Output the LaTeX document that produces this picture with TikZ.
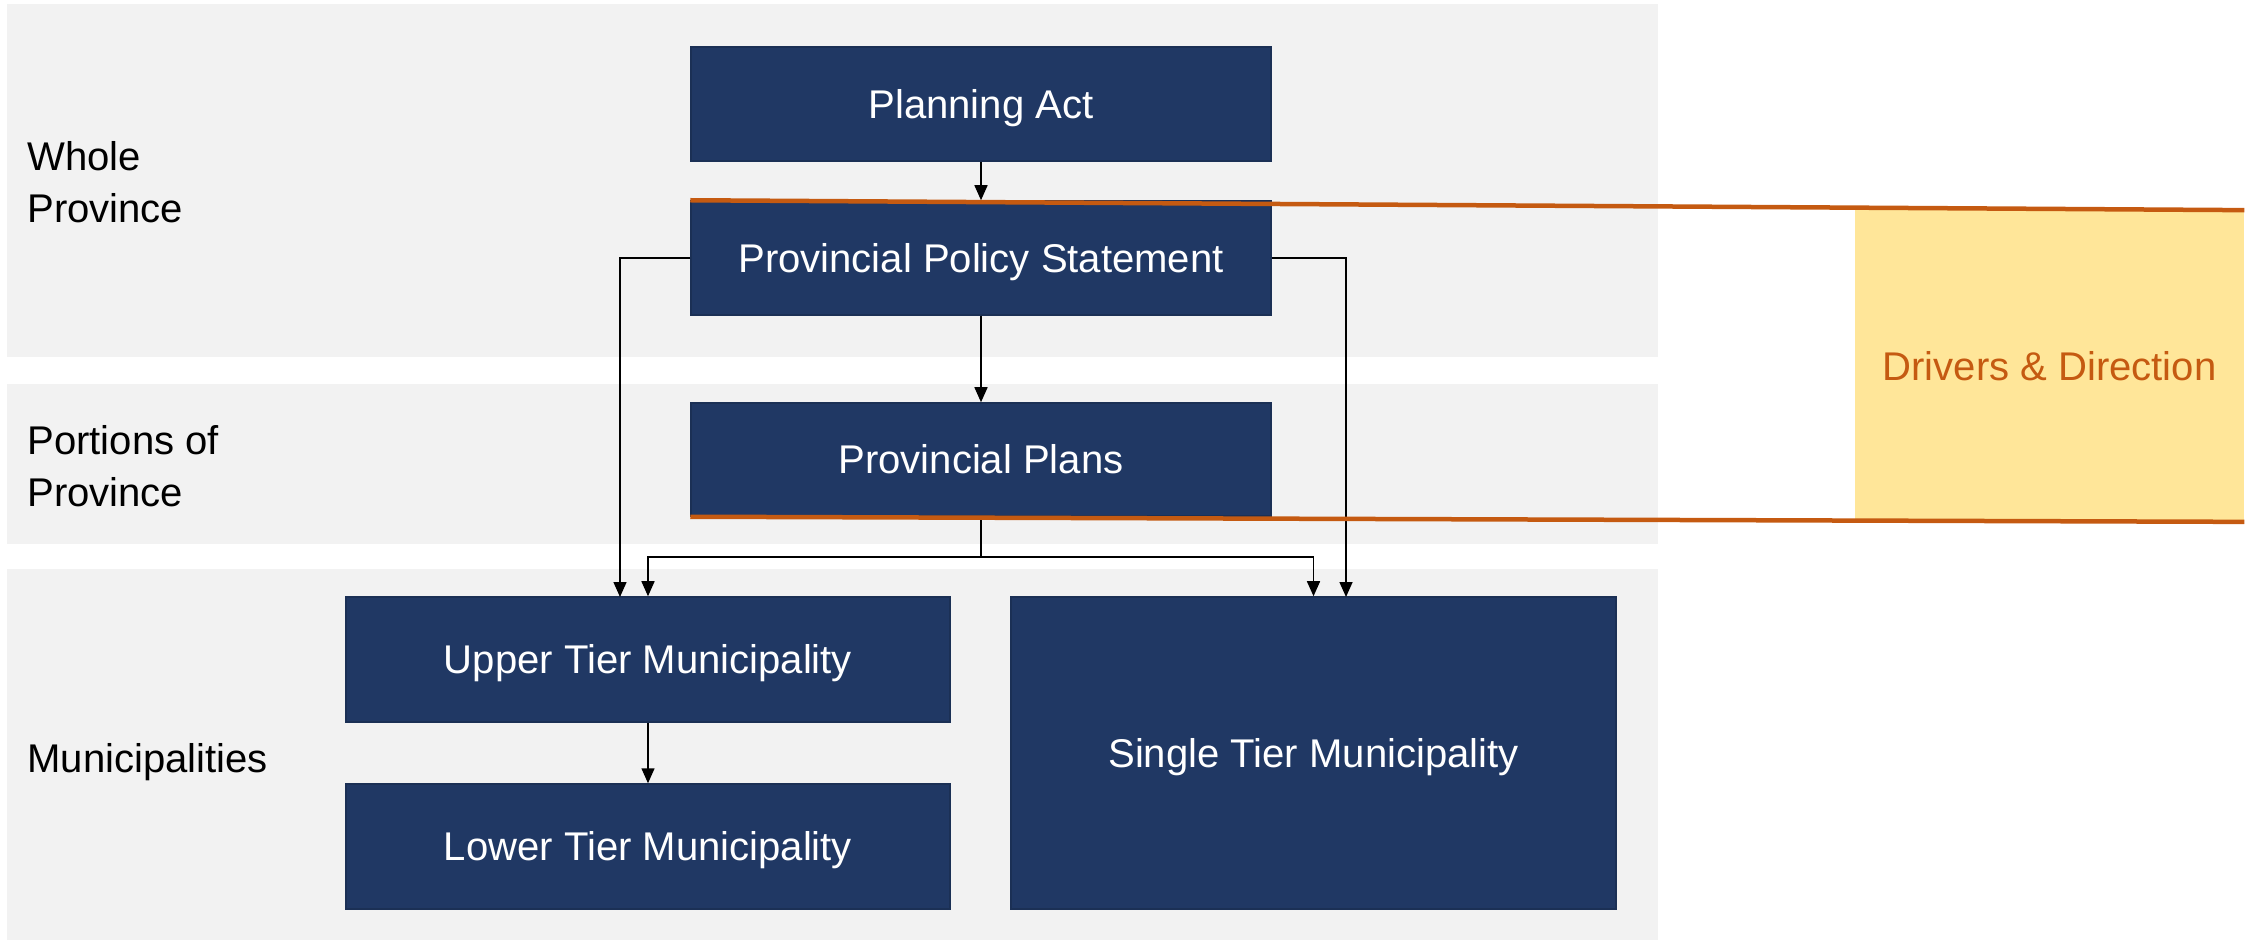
\documentclass[tikz,border=0pt]{standalone}
\usepackage{fontspec}
\setmainfont{Liberation Sans}
\usetikzlibrary{arrows.meta}
\definecolor{navy}{HTML}{203864}
\definecolor{bandgray}{HTML}{F2F2F2}
\definecolor{rust}{HTML}{C55A11}
\definecolor{gold}{HTML}{FFE699}
\tikzset{%
    box/.style={rectangle, fill=navy, draw=navy!85!black, line width=.3mm,
    	text=white, inner sep=0pt, text height=16.3pt, text depth=0pt,
    	font=\fontsize{22.8}{29.5}\selectfont},
    tag/.style={inner sep=0pt, align=left,
    	font=\fontsize{22.8}{29.5}\selectfont},
    link/.style={line width=.3mm, -{Triangle[length=3mm, width=2.6mm]}},
    rim/.style={draw=rust, line width=.9mm}
}

\begin{document}
\begin{tikzpicture}[x=.2mm, y=-.2mm]
  \useasboundingbox (0,0) rectangle (2252,940);
  \fill[bandgray] (7,4) rectangle (1658,357);
  \fill[bandgray] (7,384) rectangle (1658,544);
  \fill[bandgray] (7,569) rectangle (1658,940);

  \node (whole) [tag, anchor=west] at (27,182) {Whole\\Province};
  \node (portions) [tag, anchor=west] at (27,466) {Portions of\\Province};
  \node (munis) [tag, anchor=base west] at (27,772) {Municipalities};

  \node (act) [box, minimum width=116mm, minimum height=22.8mm] at (981,104) {Planning Act};
  \node (pps) [box, minimum width=116mm, minimum height=22.8mm] at (981,258) {Provincial Policy Statement};
  \node (plans) [box, minimum width=116mm, minimum height=22.6mm] at (981,459.5) {Provincial Plans};
  \node (upper) [box, minimum width=120.8mm, minimum height=25mm] at (648,659.5) {Upper Tier Municipality};
  \node (lower) [box, minimum width=120.8mm, minimum height=25mm] at (648,846.5) {Lower Tier Municipality};
  \node (single) [box, minimum width=121mm, minimum height=62.4mm] at (1313.5,753) {Single Tier Municipality};

  \node (drivers) [fill=gold, text=rust, minimum width=77.8mm, minimum height=62.2mm,
  	text height=16.3pt, text depth=0pt,
  	font=\fontsize{22.8}{29.5}\selectfont] at (2049.5,366) {Drivers \& Direction};

  \coordinate (uleft) at (620,597);
  \coordinate (sright) at (1346,597);
  \coordinate (split) at (981,557);

  \draw[link] (act) -- (pps);
  \draw[link] (pps) -- (plans);
  \draw[link] (pps.west) -| (uleft);
  \draw[link] (pps.east) -| (sright);
  \draw[line width=.3mm] (plans.south) -- (split);
  \draw[link] (split) -| (upper.north);
  \draw[link] (split) -| (single.north);
  \draw[link] (upper) -- (lower);

  \draw[rim] (pps.north west) -- (drivers.north east);
  \draw[rim] (plans.south west) -- (drivers.south east);
\end{tikzpicture}
\end{document}
